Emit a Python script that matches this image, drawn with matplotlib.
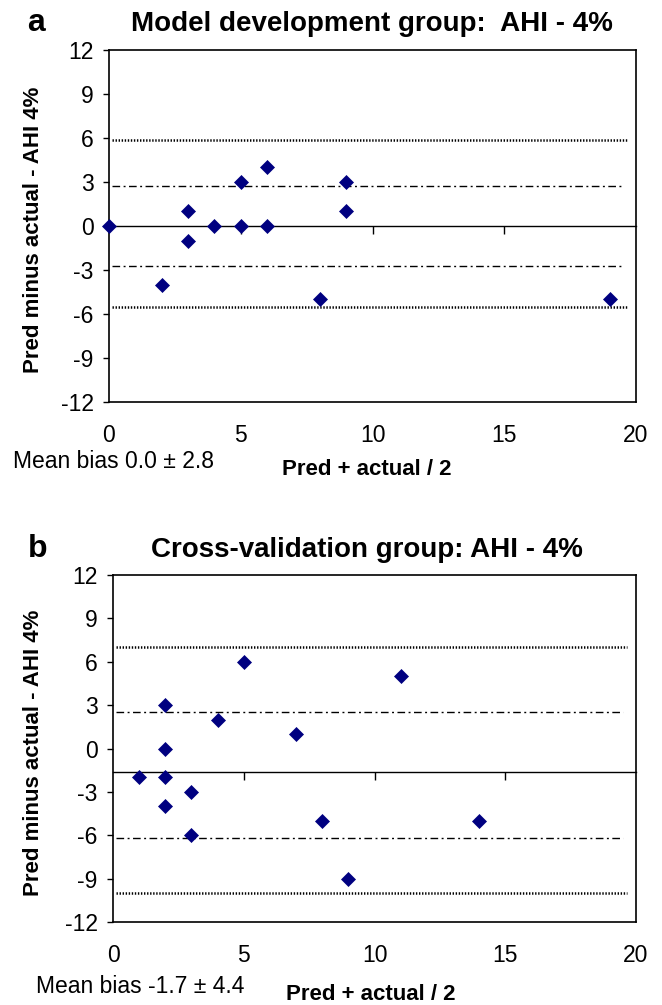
import matplotlib
matplotlib.use("Agg")
import matplotlib.pyplot as plt

plt.rcParams['font.family'] = ['Liberation Sans', 'DejaVu Sans']
plt.rcParams['lines.scale_dashes'] = False
plt.rcParams['axes.unicode_minus'] = False

# panel a - model development group
dev_x = [0, 2, 3, 3, 4, 5, 5, 6, 6, 8, 9, 9, 19]
dev_y = [0, -4, 1, -1, 0, 3, 0, 4, 0, -5, 3, 1, -5]
dev_mean = 0.0
dev_sd1 = [2.75, -2.7]
dev_sd2 = [5.85, -5.55]
dev_note = "Mean bias 0.0 ± 2.8"

# panel b - cross-validation group
cv_x = [1, 2, 2, 2, 2, 3, 3, 4, 5, 7, 8, 9, 11, 14]
cv_y = [-2, 3, 0, -2, -4, -3, -6, 2, 6, 1, -5, -9, 5, -5]
cv_mean = -1.65
cv_sd1 = [2.5, -6.2]
cv_sd2 = [7.05, -10.0]
cv_note = "Mean bias -1.7 ± 4.4"

x_ticks = [0, 5, 10, 15, 20]
y_ticks = [-12, -9, -6, -3, 0, 3, 6, 9, 12]
ylab = "Pred minus actual - AHI 4%"
xlab = "Pred + actual / 2"

W, H = 662, 1005
fig = plt.figure(figsize=(W / 100, H / 100), dpi=100)


def panel(rect, xs, ys, mean, sd1, sd2):
    ax = fig.add_axes(rect)
    ax.set_xlim(0, 20)
    ax.set_ylim(-12, 12)
    for s in ax.spines.values():
        s.set_linewidth(1.2)
        s.set_color('black')
    ax.set_xticks(x_ticks)
    ax.set_yticks(y_ticks)
    ax.tick_params(axis='x', length=0, pad=16, labelsize=16.5)
    ax.tick_params(axis='y', direction='out', length=4.5, width=1.0,
                   pad=6.5, labelsize=16.5)

    for v in sd2:
        ax.hlines(v, 0.1, 19.65, colors='black', linewidth=1.8,
                  linestyles=(0, (1.0, 1.2)))
    for v in sd1:
        ax.hlines(v, 0.1, 19.5, colors='black', linewidth=1.0,
                  linestyles=(0, (5.5, 2.5, 1.4, 2.5)))

    # mean line acts as the x axis with tick marks
    frac = (mean + 12) / 24
    sec = ax.secondary_xaxis(frac)
    sec.set_alignment('bottom')
    sec.set_xticks([5, 10, 15])
    sec.tick_params(direction='out', length=5.5, width=1.0,
                    labelbottom=False)
    sec.spines['bottom'].set_linewidth(1.0)

    ax.plot(xs, ys, linestyle='none', marker='D', markersize=6.8,
            color='#000080', markeredgecolor='#000080',
            markeredgewidth=0.5, clip_on=False, zorder=5)
    return ax


ax_a = panel([109 / W, 1 - 402 / H, (636 - 109) / W, 352 / H],
             dev_x, dev_y, dev_mean, dev_sd1, dev_sd2)
ax_b = panel([113 / W, 1 - 922 / H, (636 - 113) / W, 347 / H],
             cv_x, cv_y, cv_mean, cv_sd1, cv_sd2)

# panel letters and titles
fig.text(27 / W, 1 - 31 / H, "a", fontsize=23, fontweight='bold',
         va='baseline', ha='left')
fig.text(372 / W, 1 - 31 / H, "Model development group:  AHI - 4%",
         fontsize=20, fontweight='bold', va='baseline', ha='center')
fig.text(28 / W, 1 - 557 / H, "b", fontsize=23, fontweight='bold',
         va='baseline', ha='left')
fig.text(367 / W, 1 - 557 / H, "Cross-validation group: AHI - 4%",
         fontsize=20, fontweight='bold', va='baseline', ha='center')

# y labels
fig.text(34 / W, 1 - 230 / H, ylab, rotation=90, fontsize=16,
         fontweight='bold', ha='center', va='center')
fig.text(34 / W, 1 - 753 / H, ylab, rotation=90, fontsize=16,
         fontweight='bold', ha='center', va='center')

# x labels and mean bias notes
fig.text(367 / W, 1 - 475 / H, xlab, fontsize=16, fontweight='bold',
         ha='center', va='baseline')
fig.text(13 / W, 1 - 468 / H, dev_note, fontsize=16.5, ha='left',
         va='baseline')
fig.text(371 / W, 1 - 1000 / H, xlab, fontsize=16, fontweight='bold',
         ha='center', va='baseline')
fig.text(36 / W, 1 - 993 / H, cv_note, fontsize=16.5, ha='left',
         va='baseline')

fig.savefig("out.png", dpi=100)
